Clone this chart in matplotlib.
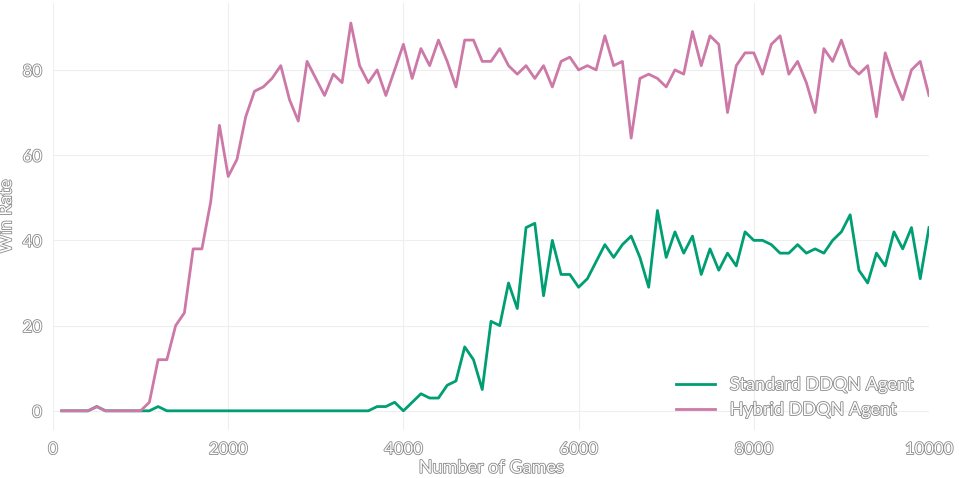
import numpy as np
import matplotlib
matplotlib.use("Agg")
import matplotlib.pyplot as plt
import matplotlib.patheffects as pe

games = list(range(100, 10001, 100))

standard = [0, 0, 0, 0, 1, 0, 0, 0, 0, 0,
            0, 1, 0, 0, 0, 0, 0, 0, 0, 0,
            0, 0, 0, 0, 0, 0, 0, 0, 0, 0,
            0, 0, 0, 0, 0, 0, 1, 1, 2, 0,
            2, 4, 3, 3, 6, 7, 15, 12, 5, 21,
            20, 30, 24, 43, 44, 27, 40, 32, 32, 29,
            31, 35, 39, 36, 39, 41, 36, 29, 47, 36,
            42, 37, 41, 32, 38, 33, 37, 34, 42, 40,
            40, 39, 37, 37, 39, 37, 38, 37, 40, 42,
            46, 33, 30, 37, 34, 42, 38, 43, 31, 43]

hybrid = [0, 0, 0, 0, 1, 0, 0, 0, 0, 0,
          2, 12, 12, 20, 23, 38, 38, 49, 67, 55,
          59, 69, 75, 76, 78, 81, 73, 68, 82, 78,
          74, 79, 77, 91, 81, 77, 80, 74, 80, 86,
          78, 85, 81, 87, 82, 76, 87, 87, 82, 82,
          85, 81, 79, 81, 78, 81, 76, 82, 83, 80,
          81, 80, 88, 81, 82, 64, 78, 79, 78, 76,
          80, 79, 89, 81, 88, 86, 70, 81, 84, 84,
          79, 86, 88, 79, 82, 77, 70, 85, 82, 87,
          81, 79, 81, 69, 84, 78, 73, 80, 82, 74]

outline = [pe.withStroke(linewidth=1.2, foreground="#888888")]
txt = dict(color="white", path_effects=outline, family="Lato")

fig = plt.figure(figsize=(9.59, 4.78), dpi=100)
ax = fig.add_axes([53 / 959, 1 - 430 / 478, 876 / 959, 427 / 478])

ax.plot(games, standard, color="#009E73", lw=2, label="Standard DDQN Agent")
ax.plot(games, hybrid, color="#CC79A7", lw=2, label="Hybrid DDQN Agent")

ax.set_xlim(0, 10000)
ax.set_ylim(-4.5, 95.7)
ax.set_xticks([0, 2000, 4000, 6000, 8000, 10000])
ax.set_yticks([0, 20, 40, 60, 80])
ax.grid(color="#eeeeee", lw=0.8)
for s in ax.spines.values():
    s.set_visible(False)
ax.tick_params(length=0, labelsize=12, pad=8)
for lab in ax.get_xticklabels() + ax.get_yticklabels():
    lab.set_color("white")
    lab.set_path_effects(outline)
    lab.set_family("Lato")

ax.set_xlabel("Number of Games", fontsize=13, labelpad=2, **txt)
ax.set_ylabel("Win Rate", fontsize=13, labelpad=6, **txt)

leg = ax.legend(loc="lower right", frameon=False, fontsize=13,
                handlelength=2.2, bbox_to_anchor=(1.0, -0.01))
for t in leg.get_texts():
    t.set_color("white")
    t.set_path_effects(outline)
    t.set_family("Lato")

fig.savefig("out.png", dpi=100)
